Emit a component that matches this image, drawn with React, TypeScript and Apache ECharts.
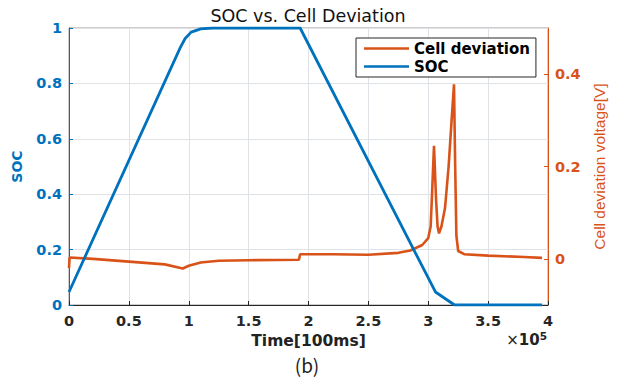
import React, { useEffect, useRef } from 'react';
import * as echarts from 'echarts';

// Time in units of 1e5 x 100ms
const socTime = [0, 0.93, 0.97, 1.02, 1.1, 1.2, 1.93, 3.06, 3.22, 3.95];
const socValue = [0.047, 0.93, 0.962, 0.985, 0.997, 1.0, 1.0, 0.047, 0.0, 0.0];

const devTime = [
  0, 0.005, 0.2, 0.5, 0.8, 0.95, 1.0, 1.1, 1.25, 1.5, 1.92, 1.93, 2.2, 2.5, 2.75, 2.85,
  2.95, 3.0, 3.02, 3.03, 3.048, 3.065, 3.078, 3.09, 3.11, 3.14, 3.17, 3.195, 3.215,
  3.225, 3.235, 3.25, 3.3, 3.5, 3.8, 3.95,
];
const devValue = [
  -0.02, 0.003, 0.0, -0.006, -0.012, -0.021, -0.015, -0.008, -0.004, -0.003, -0.002, 0.01,
  0.01, 0.009, 0.013, 0.018, 0.03, 0.045, 0.07, 0.13, 0.245, 0.13, 0.07, 0.055, 0.07, 0.11,
  0.2, 0.3, 0.378, 0.2, 0.05, 0.017, 0.01, 0.007, 0.004, 0.002,
];

const rightTicks = [0, 0.2, 0.4];

const BLUE = '#0072BD';
const ORANGE = '#D95319';

export default function App() {
  const ref = useRef<HTMLDivElement>(null);
  useEffect(() => {
    document.body.style.margin = '0';
    if (!ref.current) return;
    const chart = echarts.init(ref.current, undefined, { renderer: 'svg' });
    const socData = socTime.map((t, i) => [t, socValue[i]]);
    const devData = devTime.map((t, i) => [t, devValue[i]]);
    chart.setOption({
      animation: false,
      backgroundColor: '#fff',
      grid: {
        left: 69,
        right: 74,
        top: 28,
        bottom: 73,
        containLabel: false,
        show: true,
        borderColor: '#9a9a9a',
        borderWidth: 1,
      },
      legend: {
        left: 356,
        top: 38,
        orient: 'vertical',
        padding: [2, 6, 2, 8],
        itemGap: 1,
        itemWidth: 45,
        itemHeight: 2.5,
        backgroundColor: '#fff',
        borderColor: '#262626',
        borderWidth: 1,
        borderRadius: 0,
        textStyle: {
          fontFamily: 'DejaVu Sans',
          fontWeight: 'bold',
          fontSize: 15,
          lineHeight: 17,
          color: '#000',
        },
        data: [
          { name: 'Cell deviation', icon: 'rect' },
          { name: 'SOC', icon: 'rect' },
        ],
      },
      xAxis: {
        type: 'value',
        min: 0,
        max: 4,
        interval: 0.5,
        name: 'Time[100ms]',
        nameLocation: 'middle',
        nameGap: 27,
        nameTextStyle: { fontFamily: 'DejaVu Sans', fontWeight: 'bold', fontSize: 15.5, color: '#222' },
        axisLine: { show: true, lineStyle: { color: '#262626', width: 1 } },
        axisTick: { show: true, inside: true, length: 4, lineStyle: { color: '#262626' } },
        axisLabel: { fontFamily: 'DejaVu Sans', fontWeight: 'bold', fontSize: 14.5, color: '#262626', margin: 8 },
        splitLine: { show: true, lineStyle: { color: '#dfe3e8', width: 1 } },
      },
      yAxis: [
        {
          type: 'value',
          min: 0,
          max: 1,
          interval: 0.2,
          position: 'left',
          name: 'SOC',
          nameLocation: 'middle',
          nameGap: 45,
          nameTextStyle: { fontFamily: 'DejaVu Sans', fontWeight: 'bold', fontSize: 14, color: BLUE },
          axisLine: { show: true, lineStyle: { color: BLUE, width: 1 } },
          axisTick: { show: true, inside: true, length: 4, lineStyle: { color: BLUE } },
          axisLabel: { fontFamily: 'DejaVu Sans', fontWeight: 'bold', fontSize: 14.5, color: BLUE, margin: 7 },
          splitLine: { show: true, lineStyle: { color: '#dfe3e8', width: 1 } },
        },
        {
          type: 'value',
          min: -0.1,
          max: 0.5,
          interval: 0.1,
          position: 'right',
          name: 'Cell deviation voltage[V]',
          nameLocation: 'middle',
          nameRotate: 90,
          nameGap: 43,
          nameTextStyle: { fontFamily: 'Liberation Sans', fontSize: 15.5, color: ORANGE },
          axisLine: { show: true, lineStyle: { color: ORANGE, width: 1 } },
          axisTick: {
            show: true,
            inside: true,
            length: 4,
            lineStyle: { color: ORANGE },
            customValues: rightTicks,
          },
          axisLabel: {
            fontFamily: 'DejaVu Sans',
            fontWeight: 'bold',
            fontSize: 14.5,
            color: ORANGE,
            margin: 7,
            customValues: rightTicks,
            formatter: (v: number) => {
              const k = Math.round(v * 10);
              return k === 0 || k === 2 || k === 4 ? String(k / 10) : '';
            },
          },
          splitLine: { show: false },
        },
      ],
      series: [
        {
          name: 'Cell deviation',
          type: 'line',
          yAxisIndex: 1,
          data: devData,
          symbol: 'none',
          color: ORANGE,
          lineStyle: { color: ORANGE, width: 2.6 },
        },
        {
          name: 'SOC',
          type: 'line',
          yAxisIndex: 0,
          data: socData,
          symbol: 'none',
          color: BLUE,
          lineStyle: { color: BLUE, width: 2.8 },
        },
      ],
      graphic: [
        {
          type: 'text',
          x: 308,
          y: 16,
          style: {
            text: 'SOC vs. Cell Deviation',
            font: '17.5px "DejaVu Sans"',
            fill: '#111',
            align: 'center',
            verticalAlign: 'middle',
          },
        },
        {
          type: 'text',
          x: 547,
          y: 340,
          style: {
            text: '{a|×}{b|10}{c|5}',
            align: 'right',
            verticalAlign: 'middle',
            rich: {
              a: { font: '15px "DejaVu Sans"', fill: '#222' },
              b: { font: 'bold 15px "DejaVu Sans"', fill: '#222' },
              c: { font: 'bold 10.5px "DejaVu Sans"', fill: '#222', padding: [0, 0, 9, 0] },
            },
          },
        },
        {
          type: 'text',
          x: 307,
          y: 364,
          style: {
            text: '(b)',
            font: '19px "Noto Sans CJK KR"',
            fill: '#222',
            align: 'center',
            verticalAlign: 'middle',
          },
        },
      ],
    });
    return () => chart.dispose();
  }, []);
  return <div ref={ref} style={{ width: 622, height: 378 }} />;
}
